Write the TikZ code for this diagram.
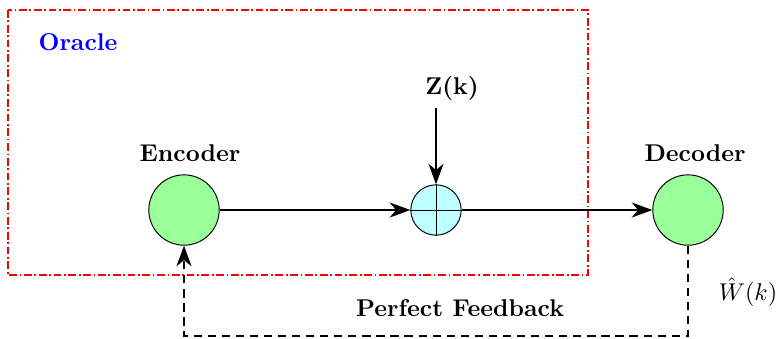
\documentclass[tikz,border=0pt]{standalone}
\usepackage{tikz}
\usetikzlibrary{shapes,arrows.meta,positioning,calc}
\definecolor{sumfill}{RGB}{190,255,255}
\definecolor{unitfill}{RGB}{153,255,153}

\begin{document}
\begin{tikzpicture}[x=0.0145cm,y=-0.0145cm,
  font=\bfseries,
  unit/.style={draw,circle,fill=unitfill,minimum size=1.02cm,inner sep=0pt},
  adder/.style={draw,circle,fill=sumfill,minimum size=0.73cm,inner sep=0pt},
  sig/.style={-{Stealth[length=8.5pt,width=6.2pt,inset=2.6pt]},semithick},
  fb/.style={sig,dash pattern=on 3.4pt off 2.4pt},
]
  \useasboundingbox (0,0) rectangle (778,338);

  % oracle frame
  \draw[red,line width=0.6pt,dash pattern=on 3.2pt off 1.1pt on 0.7pt off 1.1pt] (8,10) rectangle (588,275);
  \node[blue] (oracle) at (78,42) {Oracle};

  \node[unit] (enc) at (184,210) {};
  \node[adder] (sum) at (436,210) {};
  \node[unit] (dec) at (688,210) {};
  \draw (sum.north) -- (sum.south) (sum.west) -- (sum.east);

  \node (enclab) at (190,153) {Encoder};
  \node (declab) at (695,153) {Decoder};
  \node (noise) at (452,88) {Z(k)};
  \coordinate (nz) at (436,108);

  \draw[sig] (nz) -- (sum.north);
  \draw[sig] (enc) -- (sum);
  \draw[sig] (sum) -- (dec);

  % feedback path
  \coordinate (fbr) at (688,336);
  \draw[fb] (dec.south) -- (fbr) -| (enc.south);
  \node (fblab) at (460,308) {Perfect Feedback};
  \node[font=\normalfont] (what) at (748,292) {$\hat{W}(k)$};
\end{tikzpicture}
\end{document}
